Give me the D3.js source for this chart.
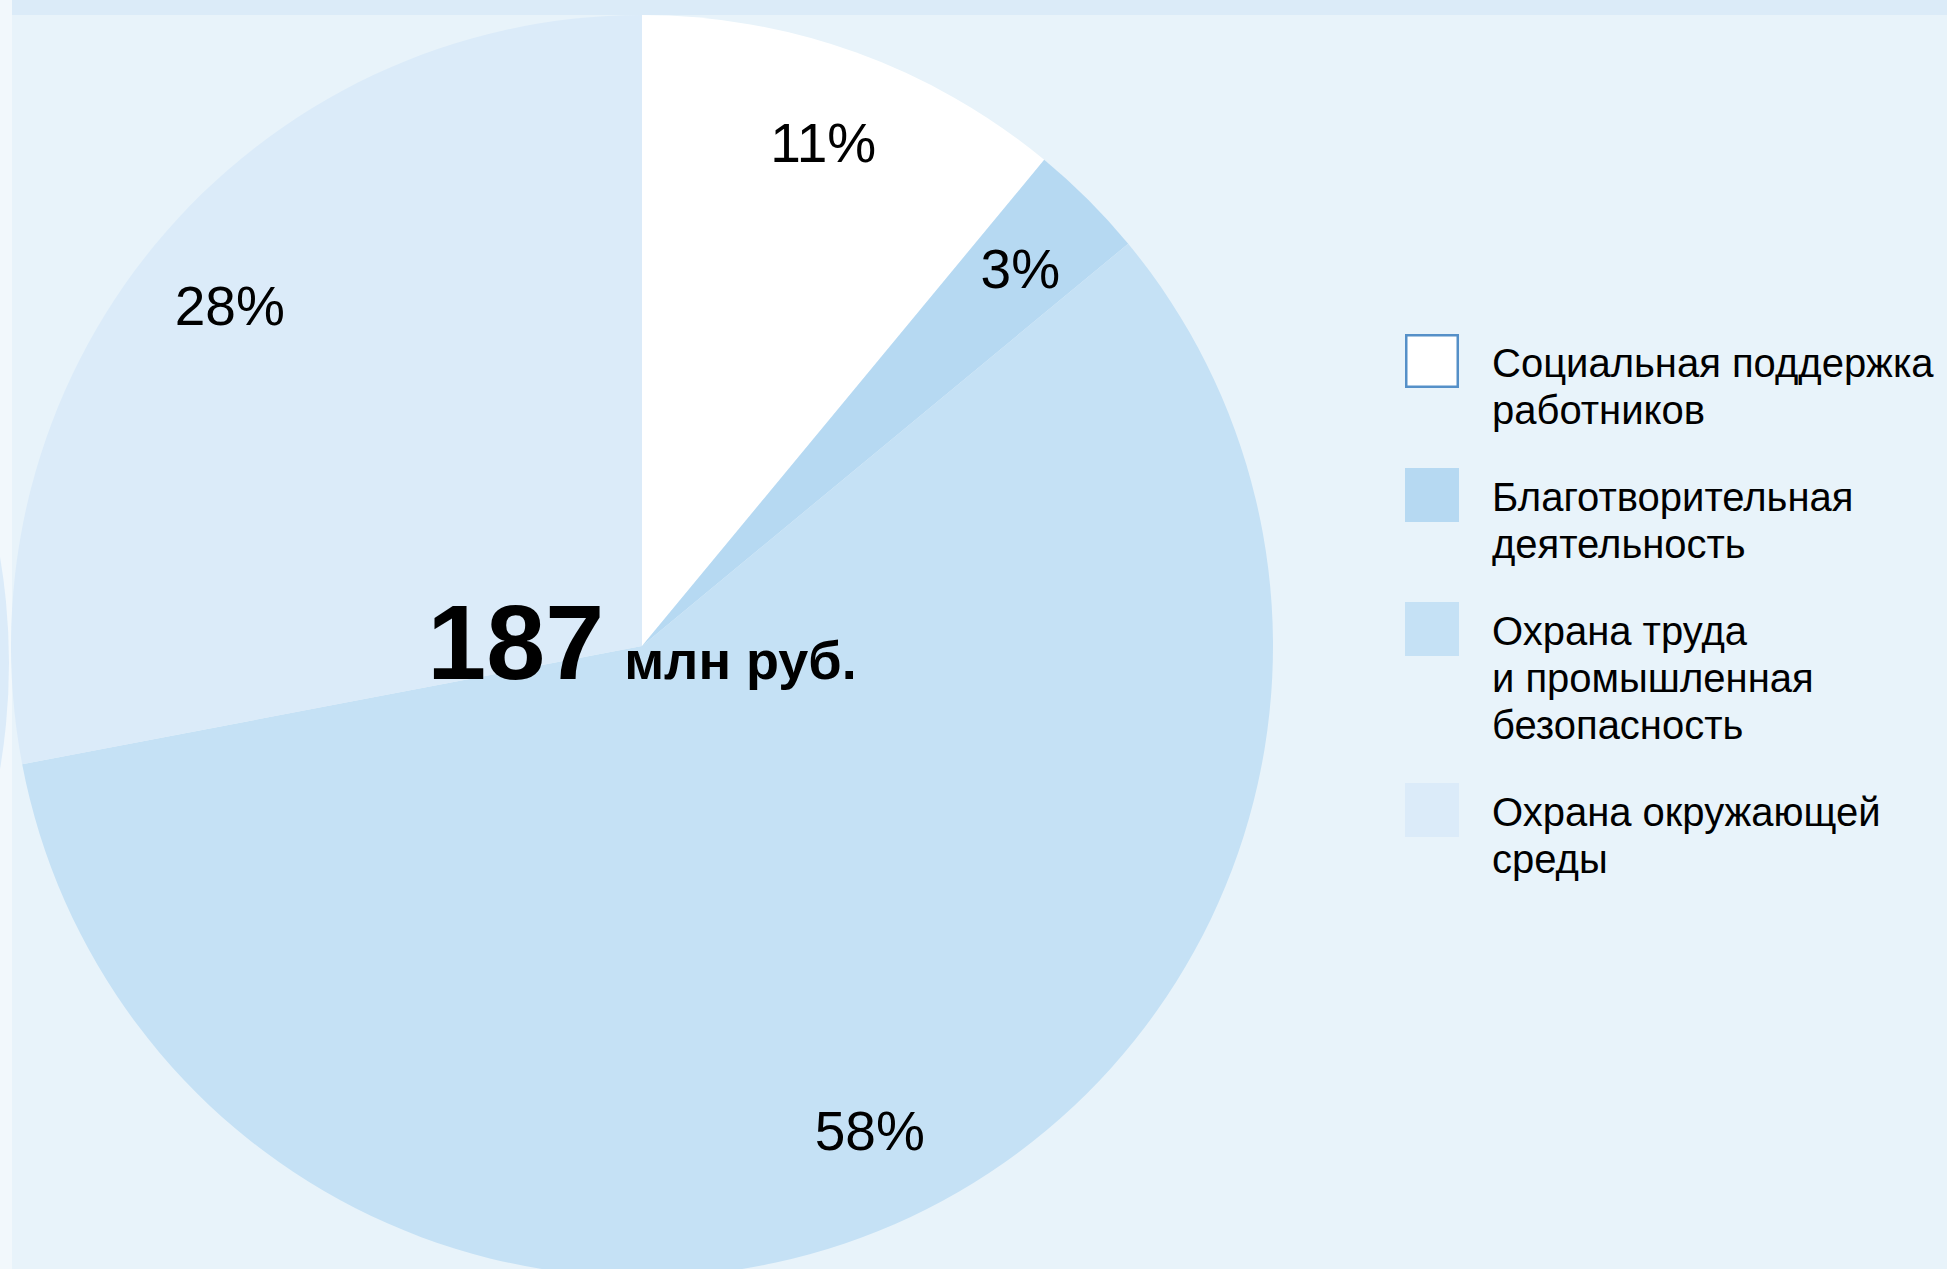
<!DOCTYPE html>
<meta charset="utf-8">
<head>
    <meta charset="utf-8">
    <title>Структура расходов</title>
    <script src="https://d3js.org/d3.v7.min.js" charset="utf-8"></script>
    <style>
        html, body {
            margin: 0;
            padding: 0;
            background: #e8f3fa;
            font-family: "Liberation Sans", Arial, Helvetica, sans-serif;
        }
        svg { display: block; }
        .slice-label { font-size: 55px; fill: #000; }
        .legend text { font-size: 40px; fill: #000; }
        .total { fill: #000; font-weight: bold; }
    </style>
</head>
<body>
<div class="pie-chart"></div>

<script>
/****************************
 1. データ
****************************/
var categories = [
    ["Социальная поддержка", "работников"],
    ["Благотворительная", "деятельность"],
    ["Охрана труда", "и промышленная", "безопасность"],
    ["Охрана окружающей", "среды"]
];
var shares = [11, 3, 58, 28];
var shareLabels = ["11%", "3%", "58%", "28%"];
var colors = ["#ffffff", "#b6d9f2", "#c5e1f5", "#dbebf9"];
var totalValue = "187";
var totalUnit = "млн руб.";

/****************************
 2. svg コンテナ
****************************/
var width = 1947, height = 1269;
var cx = 642, cy = 646, radius = 631;

var svg = d3.select(".pie-chart")
    .append("svg")
    .attr("width", width)
    .attr("height", height);

// 背景の帯
svg.append("rect").attr("x", 0).attr("y", 0).attr("width", width).attr("height", height).attr("fill", "#e8f3fa");
svg.append("rect").attr("x", 0).attr("y", 0).attr("width", 12).attr("height", height).attr("fill", "#f2f8fc");

// 左端に見えている隣の円の一部
svg.append("clipPath").attr("id", "leftStrip")
    .append("rect").attr("x", 0).attr("y", 0).attr("width", 12).attr("height", height);
svg.append("circle")
    .attr("clip-path", "url(#leftStrip)")
    .attr("cx", 9 - radius).attr("cy", 663).attr("r", radius)
    .attr("fill", "#dbebf9");

/****************************
 3. パイ
****************************/
var pie = d3.pie().sort(null).value(d => d);
var arcs = pie(shares);

var arc = d3.arc().innerRadius(0).outerRadius(radius);
var labelArc = d3.arc().innerRadius(535).outerRadius(535);

var g = svg.append("g")
    .attr("transform", "translate(" + cx + "," + cy + ")");

g.selectAll(".slice")
    .data(arcs)
    .enter()
    .append("path")
    .attr("class", "slice")
    .attr("d", arc)
    .attr("fill", (d, i) => colors[i]);

g.selectAll(".slice-label")
    .data(arcs)
    .enter()
    .append("text")
    .attr("class", "slice-label")
    .attr("text-anchor", "middle")
    .attr("dy", "0.36em")
    .attr("transform", d => "translate(" + labelArc.centroid(d) + ")")
    .text((d, i) => shareLabels[i]);

// 中央の合計
var total = g.append("text")
    .attr("class", "total")
    .attr("text-anchor", "middle")
    .attr("y", 33);
total.append("tspan").style("font-size", "106px").text(totalValue);
total.append("tspan").attr("dx", 20).style("font-size", "54px").text(totalUnit);

// 上端の帯 (円の上に重なる)
svg.append("rect").attr("x", 12).attr("y", 0).attr("width", width - 12).attr("height", 15).attr("fill", "#dbebf8");

/****************************
 4. 凡例
****************************/
var lineH = 47, gap = 40;
var legendY = [];
var y0 = 377;
categories.forEach(function(lines) {
    legendY.push(y0);
    y0 += lines.length * lineH + gap;
});

var legend = svg.append("g")
    .attr("class", "legend")
    .selectAll("g")
    .data(categories)
    .enter()
    .append("g")
    .attr("transform", (d, i) => "translate(1405," + legendY[i] + ")");

legend.append("rect")
    .attr("x", (d, i) => i === 0 ? 1.25 : 0)
    .attr("y", (d, i) => i === 0 ? -41.75 : -43)
    .attr("width", (d, i) => i === 0 ? 51.5 : 54)
    .attr("height", (d, i) => i === 0 ? 51.5 : 54)
    .attr("fill", (d, i) => colors[i])
    .attr("stroke", (d, i) => i === 0 ? "#5590c8" : "none")
    .attr("stroke-width", 2.5);

legend.append("text")
    .attr("x", 87)
    .selectAll("tspan")
    .data(d => d)
    .enter()
    .append("tspan")
    .attr("x", 87)
    .attr("y", (d, i) => i * lineH)
    .text(d => d);
</script>
</body>
